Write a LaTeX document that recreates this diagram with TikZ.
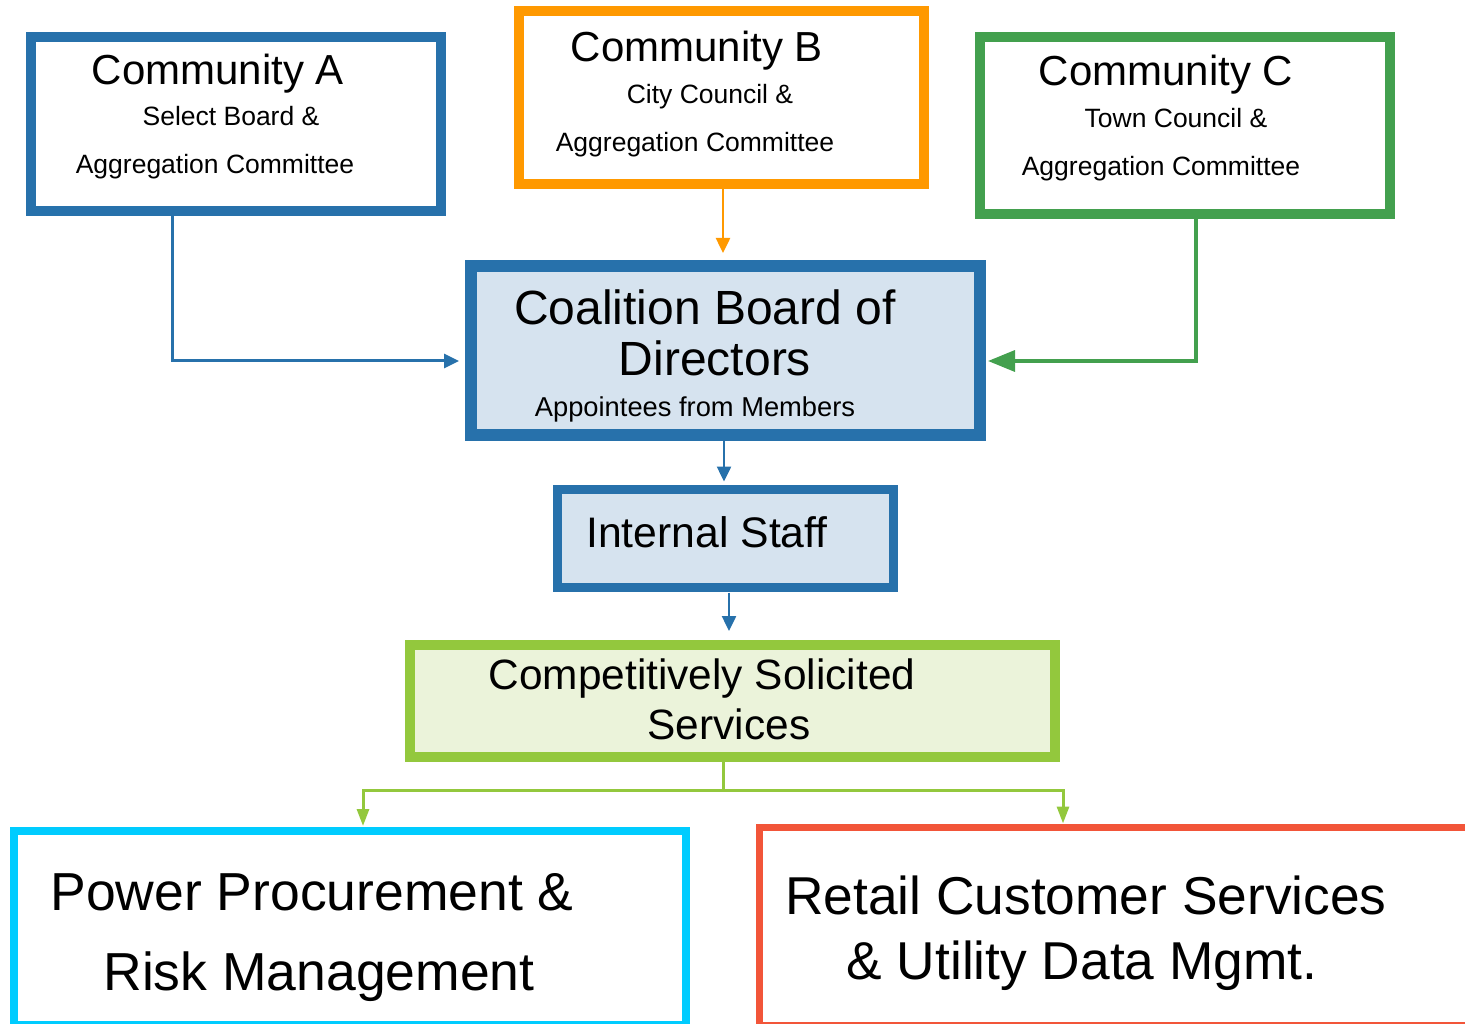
\documentclass[tikz,border=0pt]{standalone}
\usepackage{fontspec}
\setmainfont{Liberation Sans}
\usetikzlibrary{arrows.meta,calc}
\definecolor{cblue}{HTML}{2771AB}
\definecolor{corange}{HTML}{FF9900}
\definecolor{cgreen}{HTML}{43A04E}
\definecolor{clime}{HTML}{93C83D}
\definecolor{climefill}{HTML}{EBF3DA}
\definecolor{cbluefill}{HTML}{D6E3EF}
\definecolor{ccyan}{HTML}{00CCFF}
\definecolor{cred}{HTML}{F25539}
\newcommand{\fs}[1]{\fontsize{#1}{#1}\selectfont}
\begin{document}
\begin{tikzpicture}[x=1pt,y=-1pt,
  box/.style={draw,rectangle,inner sep=0pt},
  txt/.style={inner sep=0pt,anchor=base},
  conn/.style={line width=#1,-{Triangle[length=15pt,width=14pt]}},
]
\clip (0,0) rectangle (1465,1024);
% boxes
\node[box,draw=cblue,line width=10pt,minimum width=410pt,minimum height=174pt] (A) at (236,124) {};
\node[box,draw=corange,line width=10pt,minimum width=405pt,minimum height=173pt] (B) at (721.5,97.5) {};
\node[box,draw=cgreen,line width=10pt,minimum width=410pt,minimum height=177pt] (C) at (1185,125.5) {};
\node[box,draw=cblue,fill=cbluefill,line width=12pt,minimum width=509pt,minimum height=169pt] (coal) at (725.5,350.5) {};
\node[box,draw=cblue,fill=cbluefill,line width=9pt,minimum width=336pt,minimum height=98pt] (staff) at (725,538) {};
\node[box,draw=clime,fill=climefill,line width=10pt,minimum width=645pt,minimum height=112pt] (comp) at (732.5,701) {};
\node[box,draw=ccyan,line width=8pt,minimum width=672pt,minimum height=194pt] (power) at (350,928) {};
\node[box,draw=cred,line width=7pt,minimum width=711pt,minimum height=198pt] (retail) at (1114.5,926) {};
% texts
\node[txt] (ta1) at (218,85) {\fs{42}Community A};
\node[txt] (ta2) at (231,126) {\fs{26.5}Select Board \&};
\node[txt] (ta3) at (215,174) {\fs{26.5}Aggregation Committee};
\node[txt] (tb1) at (697,62) {\fs{42}Community B};
\node[txt] (tb2) at (710,104) {\fs{26.5}City Council \&};
\node[txt] (tb3) at (695,152) {\fs{26.5}Aggregation Committee};
\node[txt] (tc1) at (1166,86) {\fs{42}Community C};
\node[txt] (tc2) at (1176,128) {\fs{26.5}Town Council \&};
\node[txt] (tc3) at (1161,176) {\fs{26.5}Aggregation Committee};
\node[txt] (td1) at (705,325) {\fs{48}Coalition Board of};
\node[txt] (td2) at (715,375) {\fs{48}Directors};
\node[txt] (td3) at (695,417) {\fs{27.3}Appointees from Members};
\node[txt] (ts) at (707,547) {\fs{42.7}Internal Staff};
\node[txt] (tcs1) at (702,689) {\fs{42.4}Competitively Solicited};
\node[txt] (tcs2) at (729,739) {\fs{42.4}Services};
\node[txt] (tp1) at (312,910) {\fs{53.5}Power Procurement \&};
\node[txt] (tp2) at (319,990) {\fs{53.5}Risk Management};
\node[txt] (tr1) at (1086,914) {\fs{53.3}Retail Customer Services};
\node[txt] (tr2) at (1082,979) {\fs{53.3}\& Utility Data Mgmt.};
% connector x positions
\coordinate (xb) at (723,0);
\coordinate (xc) at (724,0);
\coordinate (xs) at (729,0);
% connectors
\draw[cblue,conn=3pt,shorten >=6pt] ([xshift=146pt]A.south west) |- ([yshift=-10.5pt]coal.west);
\draw[cgreen,line width=3.5pt,-{Triangle[length=27pt,width=21pt]},shorten >=2pt] ([xshift=221pt]C.south west) |- ([yshift=-10.5pt]coal.east);
\draw[corange,conn=2.5pt,shorten >=7pt] (B.south -| xb) -- (coal.north -| xb);
\draw[cblue,conn=2.5pt,shorten >=3pt] (coal.south -| xc) -- (staff.north -| xc);
\draw[cblue,conn=2.5pt,shorten >=9pt,shorten <=1pt] (staff.south -| xs) -- (comp.north -| xs);
\draw[clime,line width=3pt,-{Triangle[length=17pt,width=12pt]},shorten >=1pt] ([xshift=-9.5pt]comp.south) -- ++(0,28) -| ([xshift=13pt]power.north);
\draw[clime,line width=3pt,-{Triangle[length=17pt,width=12pt]}] ([xshift=-9.5pt]comp.south) -- ++(0,28) -| ([xshift=-51.5pt]retail.north);
\end{tikzpicture}
\end{document}
